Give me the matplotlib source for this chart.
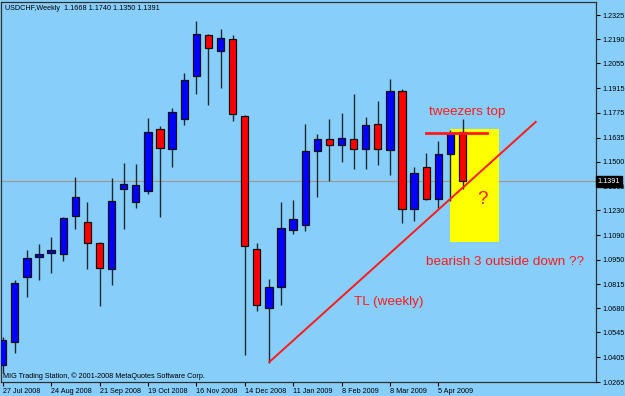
import matplotlib.pyplot as plt
import matplotlib.patches as patches
import numpy as np

plt.rcParams['font.family'] = ['Liberation Sans', 'DejaVu Sans']

# weekly USDCHF candles, first bar = week of 27 Jul 2008
opens = [1.0358, 1.0491, 1.0854, 1.0966, 1.0988, 1.0982, 1.1199, 1.1162, 1.1048, 1.0898,
         1.1347, 1.1278, 1.1339, 1.1687, 1.1572, 1.1742, 1.1984, 1.2213, 1.2123, 1.2190,
         1.1758, 1.1012, 1.0683, 1.0797, 1.1119, 1.1145, 1.1562, 1.1631, 1.1594, 1.1631,
         1.1572, 1.1712, 1.1568, 1.1899, 1.1235, 1.1474, 1.1293, 1.1544, 1.1668]
highs = [1.0520, 1.0838, 1.1007, 1.1040, 1.1081, 1.1190, 1.1418, 1.1278, 1.1053, 1.1409,
         1.1493, 1.1489, 1.1746, 1.1702, 1.1802, 1.2001, 1.2291, 1.2217, 1.2245, 1.2213,
         1.1764, 1.1048, 1.0842, 1.1274, 1.1287, 1.1712, 1.1656, 1.1740, 1.1777, 1.1882,
         1.1755, 1.1844, 1.1964, 1.1910, 1.1474, 1.1549, 1.1618, 1.1680, 1.1740]
lows = [1.0317, 1.0430, 1.0741, 1.0838, 1.0879, 1.0945, 1.1123, 1.0898, 1.0689, 1.0810,
        1.1123, 1.1241, 1.1321, 1.1193, 1.1471, 1.1708, 1.1882, 1.1820, 1.1914, 1.1732,
        1.0415, 1.0666, 1.0374, 1.0698, 1.1095, 1.1115, 1.1306, 1.1394, 1.1499, 1.1459,
        1.1459, 1.1484, 1.1427, 1.1156, 1.1171, 1.1287, 1.1241, 1.1282, 1.1350]
closes = [1.0498, 1.0820, 1.0960, 1.0984, 1.1007, 1.1185, 1.1306, 1.1044, 1.0904, 1.1282,
          1.1375, 1.1371, 1.1670, 1.1577, 1.1779, 1.1959, 1.2217, 1.2142, 1.2194, 1.1768,
          1.1031, 1.0698, 1.0797, 1.1128, 1.1182, 1.1562, 1.1631, 1.1594, 1.1635, 1.1572,
          1.1708, 1.1572, 1.1899, 1.1235, 1.1437, 1.1293, 1.1544, 1.1661, 1.1391]

date_labels = ["27 Jul 2008", "24 Aug 2008", "21 Sep 2008", "19 Oct 2008", "16 Nov 2008",
               "14 Dec 2008", "11 Jan 2009", "8 Feb 2009", "8 Mar 2009", "5 Apr 2009"]
date_pos = [0, 4, 8, 12, 16, 20, 24, 28, 32, 36]
price_ticks = [1.2325, 1.2190, 1.2055, 1.1915, 1.1775, 1.1635, 1.1500, 1.1365,
               1.1230, 1.1090, 1.0950, 1.0815, 1.0680, 1.0545, 1.0405, 1.0265]
last_price = 1.1391

# trend line and tweezers top level
tl_x = [22.03, 44.05]
tl_y = [1.0377, 1.1725]
tweezer_x = [35, 40]
tweezer_y = 1.1665
box_x = [36.97, 41.0]
box_y = [1.1053, 1.1684]

bg = '#87cefa'
small = 5.2
fig = plt.figure(figsize=(6.25, 3.96), dpi=100, facecolor=bg)
ax = fig.add_axes([1.5 / 625, 1 - 382 / 396, 594.5 / 625, 380 / 396])
ax.set_facecolor(bg)

x = np.arange(len(opens))
o = np.array(opens)
c = np.array(closes)
up = c >= o
colors = np.where(up, '#0000ff', '#ff0000')

ax.vlines(x, lows, highs, color='#1e2a33', linewidth=1, zorder=3)
ax.bar(x, np.abs(c - o), bottom=np.minimum(o, c), width=0.6, color=colors,
       edgecolor='#101010', linewidth=0.9, zorder=4)

ax.axhline(last_price, color='#a49484', linewidth=0.8, zorder=1)

ax.add_patch(patches.Rectangle((box_x[0], box_y[0]), box_x[1] - box_x[0], box_y[1] - box_y[0],
                               facecolor='#ffff00', edgecolor='none', zorder=2))
ax.plot(tweezer_x, [tweezer_y, tweezer_y], color='#ff1a1a', linewidth=2, zorder=5)
ax.plot(tl_x, tl_y, color='#ff1a1a', linewidth=1.4, zorder=5)

red = '#ff1a1a'
ax.text(38.37, 1.1781, "tweezers top", color=red, fontsize=9.7, ha='center', va='center')
ax.text(39.61, 1.1287, "?", color=red, fontsize=13.5, ha='center', va='center')
ax.text(41.47, 1.0939, "bearish 3 outside down ??", color=red, fontsize=9.7, ha='center', va='center')
ax.text(31.93, 1.0712, "TL (weekly)", color=red, fontsize=9.7, ha='center', va='center')

ax.text(0.006, 0.992, "USDCHF,Weekly  1.1668 1.1740 1.1350 1.1391", transform=ax.transAxes,
        fontsize=small, ha='left', va='top')
ax.text(0.003, 0.006, "MIG Trading Station, \u00a9 2001-2008 MetaQuotes Software Corp.",
        transform=ax.transAxes, fontsize=small, ha='left', va='bottom')

ax.set_xlim(-0.1, 49.03)
ax.set_ylim(1.0266, 1.2398)

ax.yaxis.tick_right()
ax.set_yticks(price_ticks)
ax.set_yticklabels([f"{p:.4f}" for p in price_ticks])
ax.set_xticks(date_pos)
ax.set_xticklabels(date_labels)
for lab in ax.get_xticklabels():
    lab.set_horizontalalignment('left')
ax.tick_params(axis='both', direction='out', length=3, width=0.8, labelsize=small, pad=1.5)

ax.text(1.003, last_price, f"{last_price:.4f}", transform=ax.get_yaxis_transform(),
        color='white', fontsize=small, ha='left', va='center', clip_on=False, zorder=10,
        bbox=dict(facecolor='black', edgecolor='black', pad=1.4))

for s in ax.spines.values():
    s.set_color('#303030')
    s.set_linewidth(0.9)

fig.savefig("out.png", dpi=100, facecolor=bg)
